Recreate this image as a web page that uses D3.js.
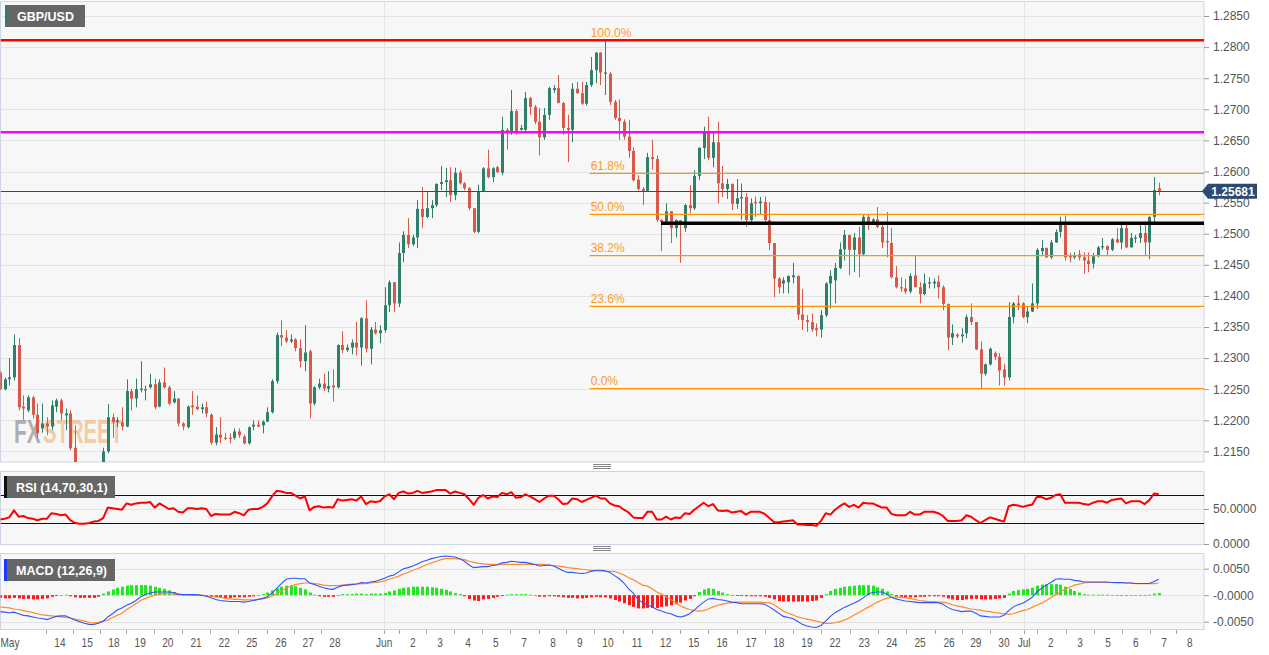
<!DOCTYPE html>
<html><head><meta charset="utf-8">
<script src="https://cdn.jsdelivr.net/npm/d3@7"></script>
<style>
html,body{margin:0;padding:0;background:#fff;}
svg{display:block;font-family:"Liberation Sans",Arial,sans-serif;}
</style></head><body>
<svg id="c" width="1269" height="655"></svg>
<script>
// ---------------- DATA (4h candles) ----------------
const open=[1.2277,1.2250,1.2266,1.2269,1.2321,1.2222,1.2216,1.2237,1.2209,1.2187,1.2195,1.2190,1.2222,1.2232,1.2208,1.2211,1.2156,1.2119,1.2106,1.2087,1.2100,1.2111,1.2126,1.2150,1.2205,1.2197,1.2197,1.2190,1.2247,1.2235,1.2250,1.2248,1.2253,1.2258,1.2222,1.2261,1.2253,1.2229,1.2235,1.2195,1.2189,1.2224,1.2222,1.2218,1.2221,1.2209,1.2164,1.2177,1.2172,1.2172,1.2172,1.2182,1.2174,1.2163,1.2190,1.2193,1.2192,1.2198,1.2213,1.2263,1.2337,1.2333,1.2327,1.2330,1.2316,1.2295,1.2311,1.2227,1.2253,1.2259,1.2251,1.2256,1.2253,1.2321,1.2313,1.2317,1.2325,1.2317,1.2364,1.2315,1.2346,1.2340,1.2345,1.2385,1.2422,1.2388,1.2469,1.2498,1.2483,1.2494,1.2540,1.2527,1.2541,1.2546,1.2580,1.2583,1.2586,1.2562,1.2598,1.2581,1.2573,1.2541,1.2503,1.2567,1.2605,1.2591,1.2607,1.2598,1.2667,1.2662,1.2697,1.2667,1.2667,1.2718,1.2704,1.2680,1.2655,1.2691,1.2731,1.2734,1.2710,1.2670,1.2667,1.2733,1.2726,1.2709,1.2739,1.2763,1.2791,1.2757,1.2757,1.2712,1.2686,1.2680,1.2656,1.2633,1.2587,1.2572,1.2569,1.2623,1.2620,1.2522,1.2519,1.2536,1.2509,1.2522,1.2509,1.2546,1.2541,1.2593,1.2638,1.2662,1.2622,1.2647,1.2581,1.2572,1.2580,1.2548,1.2557,1.2559,1.2522,1.2551,1.2549,1.2551,1.2522,1.2485,1.2428,1.2420,1.2422,1.2430,1.2432,1.2370,1.2361,1.2358,1.2348,1.2346,1.2369,1.2420,1.2425,1.2445,1.2475,1.2498,1.2474,1.2494,1.2467,1.2527,1.2519,1.2523,1.2511,1.2488,1.2485,1.2430,1.2414,1.2412,1.2407,1.2433,1.2414,1.2403,1.2420,1.2420,1.2423,1.2414,1.2387,1.2333,1.2338,1.2335,1.2340,1.2366,1.2358,1.2314,1.2275,1.2290,1.2308,1.2302,1.2282,1.2269,1.2366,1.2388,1.2388,1.2366,1.2375,1.2388,1.2472,1.2477,1.2462,1.2486,1.2503,1.2517,1.2465,1.2462,1.2467,1.2462,1.2457,1.2452,1.2464,1.2478,1.2480,1.2474,1.2491,1.2486,1.2509,1.2478,1.2493,1.2493,1.2501,1.2486,1.2527,1.2573];
const high=[1.2280,1.2269,1.2300,1.2338,1.2332,1.2240,1.2240,1.2239,1.2227,1.2227,1.2205,1.2232,1.2235,1.2235,1.2219,1.2216,1.2192,1.2127,1.2116,1.2106,1.2123,1.2131,1.2156,1.2226,1.2211,1.2205,1.2221,1.2266,1.2251,1.2267,1.2295,1.2256,1.2275,1.2267,1.2266,1.2285,1.2256,1.2247,1.2235,1.2197,1.2224,1.2247,1.2240,1.2227,1.2230,1.2211,1.2189,1.2205,1.2180,1.2179,1.2187,1.2187,1.2177,1.2190,1.2200,1.2200,1.2200,1.2221,1.2266,1.2341,1.2361,1.2345,1.2338,1.2332,1.2330,1.2353,1.2314,1.2255,1.2267,1.2275,1.2279,1.2282,1.2322,1.2343,1.2322,1.2330,1.2358,1.2366,1.2393,1.2350,1.2358,1.2353,1.2414,1.2425,1.2422,1.2486,1.2504,1.2525,1.2498,1.2554,1.2575,1.2567,1.2554,1.2581,1.2609,1.2606,1.2607,1.2606,1.2602,1.2583,1.2575,1.2541,1.2579,1.2607,1.2635,1.2607,1.2609,1.2688,1.2670,1.2731,1.2700,1.2675,1.2728,1.2720,1.2707,1.2702,1.2702,1.2736,1.2739,1.2755,1.2712,1.2691,1.2742,1.2744,1.2744,1.2744,1.2784,1.2792,1.2792,1.2811,1.2760,1.2715,1.2716,1.2684,1.2683,1.2639,1.2594,1.2575,1.2630,1.2651,1.2626,1.2523,1.2549,1.2536,1.2523,1.2522,1.2548,1.2578,1.2602,1.2639,1.2672,1.2688,1.2662,1.2680,1.2609,1.2588,1.2581,1.2588,1.2581,1.2565,1.2557,1.2560,1.2559,1.2560,1.2551,1.2485,1.2430,1.2430,1.2433,1.2453,1.2433,1.2411,1.2369,1.2372,1.2356,1.2377,1.2422,1.2441,1.2453,1.2486,1.2506,1.2498,1.2501,1.2511,1.2530,1.2530,1.2525,1.2543,1.2519,1.2535,1.2509,1.2448,1.2430,1.2427,1.2436,1.2464,1.2422,1.2436,1.2430,1.2428,1.2433,1.2417,1.2388,1.2354,1.2340,1.2348,1.2370,1.2388,1.2358,1.2327,1.2291,1.2317,1.2311,1.2308,1.2291,1.2390,1.2390,1.2401,1.2390,1.2382,1.2420,1.2477,1.2490,1.2478,1.2490,1.2507,1.2527,1.2529,1.2469,1.2470,1.2474,1.2470,1.2470,1.2469,1.2480,1.2493,1.2481,1.2493,1.2509,1.2514,1.2514,1.2501,1.2498,1.2514,1.2514,1.2528,1.2591,1.2582];
const low=[1.2248,1.2248,1.2256,1.2264,1.2216,1.2201,1.2213,1.2203,1.2172,1.2180,1.2176,1.2184,1.2213,1.2200,1.2184,1.2152,1.2103,1.2095,1.2076,1.2079,1.2090,1.2103,1.2111,1.2147,1.2172,1.2189,1.2184,1.2189,1.2216,1.2221,1.2245,1.2232,1.2251,1.2218,1.2221,1.2251,1.2224,1.2227,1.2190,1.2184,1.2187,1.2209,1.2216,1.2211,1.2205,1.2161,1.2160,1.2163,1.2168,1.2163,1.2169,1.2172,1.2161,1.2161,1.2184,1.2189,1.2179,1.2197,1.2211,1.2259,1.2319,1.2324,1.2324,1.2311,1.2285,1.2279,1.2203,1.2224,1.2250,1.2247,1.2245,1.2230,1.2251,1.2308,1.2310,1.2306,1.2304,1.2288,1.2309,1.2290,1.2338,1.2324,1.2341,1.2374,1.2374,1.2382,1.2454,1.2477,1.2480,1.2477,1.2509,1.2525,1.2525,1.2543,1.2570,1.2559,1.2551,1.2554,1.2579,1.2570,1.2538,1.2501,1.2501,1.2567,1.2589,1.2583,1.2598,1.2594,1.2635,1.2659,1.2659,1.2666,1.2664,1.2691,1.2676,1.2626,1.2651,1.2683,1.2726,1.2710,1.2659,1.2615,1.2647,1.2725,1.2707,1.2706,1.2736,1.2742,1.2739,1.2723,1.2707,1.2683,1.2651,1.2651,1.2622,1.2584,1.2569,1.2546,1.2567,1.2603,1.2519,1.2472,1.2517,1.2485,1.2494,1.2453,1.2503,1.2533,1.2538,1.2586,1.2620,1.2618,1.2607,1.2549,1.2559,1.2556,1.2538,1.2540,1.2522,1.2511,1.2519,1.2527,1.2530,1.2517,1.2474,1.2398,1.2404,1.2404,1.2404,1.2420,1.2361,1.2345,1.2342,1.2342,1.2335,1.2333,1.2366,1.2380,1.2388,1.2443,1.2457,1.2433,1.2438,1.2430,1.2465,1.2506,1.2514,1.2509,1.2477,1.2462,1.2428,1.2412,1.2406,1.2403,1.2404,1.2414,1.2388,1.2401,1.2412,1.2412,1.2396,1.2377,1.2313,1.2321,1.2332,1.2325,1.2332,1.2353,1.2313,1.2251,1.2272,1.2288,1.2297,1.2256,1.2256,1.2264,1.2356,1.2377,1.2364,1.2356,1.2374,1.2379,1.2465,1.2461,1.2459,1.2485,1.2494,1.2457,1.2454,1.2459,1.2457,1.2436,1.2438,1.2444,1.2462,1.2474,1.2464,1.2472,1.2485,1.2475,1.2477,1.2478,1.2485,1.2485,1.2465,1.2459,1.2517,1.2562];
const close=[1.2250,1.2266,1.2269,1.2321,1.2221,1.2219,1.2237,1.2209,1.2179,1.2195,1.2190,1.2224,1.2232,1.2211,1.2211,1.2155,1.2119,1.2106,1.2087,1.2100,1.2111,1.2126,1.2150,1.2205,1.2197,1.2200,1.2190,1.2247,1.2235,1.2250,1.2251,1.2250,1.2258,1.2221,1.2261,1.2253,1.2227,1.2235,1.2195,1.2190,1.2222,1.2221,1.2218,1.2221,1.2211,1.2164,1.2177,1.2172,1.2171,1.2170,1.2182,1.2176,1.2163,1.2189,1.2193,1.2190,1.2198,1.2213,1.2263,1.2337,1.2333,1.2327,1.2330,1.2316,1.2295,1.2309,1.2227,1.2253,1.2259,1.2251,1.2255,1.2253,1.2321,1.2313,1.2317,1.2325,1.2317,1.2364,1.2315,1.2346,1.2340,1.2345,1.2385,1.2422,1.2388,1.2469,1.2498,1.2483,1.2494,1.2540,1.2527,1.2541,1.2546,1.2580,1.2583,1.2586,1.2562,1.2598,1.2581,1.2573,1.2541,1.2503,1.2567,1.2605,1.2591,1.2605,1.2599,1.2667,1.2662,1.2697,1.2662,1.2670,1.2718,1.2704,1.2680,1.2655,1.2691,1.2734,1.2734,1.2710,1.2670,1.2667,1.2733,1.2726,1.2709,1.2739,1.2763,1.2791,1.2759,1.2759,1.2712,1.2686,1.2681,1.2656,1.2633,1.2586,1.2572,1.2569,1.2623,1.2620,1.2522,1.2519,1.2536,1.2509,1.2522,1.2517,1.2546,1.2541,1.2593,1.2638,1.2662,1.2622,1.2647,1.2581,1.2572,1.2580,1.2548,1.2557,1.2559,1.2522,1.2549,1.2549,1.2552,1.2522,1.2485,1.2428,1.2414,1.2425,1.2432,1.2433,1.2370,1.2361,1.2358,1.2346,1.2345,1.2369,1.2420,1.2432,1.2445,1.2475,1.2498,1.2474,1.2494,1.2467,1.2527,1.2514,1.2523,1.2511,1.2486,1.2486,1.2430,1.2414,1.2412,1.2407,1.2432,1.2414,1.2403,1.2420,1.2422,1.2423,1.2414,1.2387,1.2333,1.2340,1.2335,1.2338,1.2366,1.2358,1.2314,1.2275,1.2290,1.2315,1.2302,1.2280,1.2269,1.2366,1.2388,1.2385,1.2366,1.2375,1.2388,1.2474,1.2477,1.2462,1.2486,1.2503,1.2517,1.2462,1.2462,1.2465,1.2462,1.2457,1.2451,1.2464,1.2478,1.2480,1.2474,1.2491,1.2486,1.2509,1.2478,1.2493,1.2494,1.2501,1.2486,1.2527,1.2570,1.25681];

const rsi=[35,36,38,48,39,40,37,36,34,36,36,44,43,41,42,34,30,29,29,30,32,33,37,52,51,50,49,58,56,58,59,59,60,52,58,54,50,51,46,45,51,51,50,51,50,40,43,42,42,42,46,44,41,49,50,50,53,58,68,76,75,73,73,69,65,68,48,53,54,52,53,52,64,62,63,64,62,68,57,61,60,61,68,71,64,73,75,72,73,76,73,74,75,77,77,77,72,75,73,71,64,56,66,70,65,68,67,73,71,74,66,67,71,68,64,60,65,69,69,64,57,58,65,64,60,63,66,69,65,65,58,55,54,49,45,38,37,37,46,46,35,35,39,35,38,37,44,43,49,54,59,54,57,48,47,48,45,46,47,42,46,46,46,43,37,31,31,32,33,34,28,28,27,27,26,33,44,42,49,54,58,53,56,52,59,58,58,55,52,52,43,41,41,41,46,42,42,46,46,46,44,40,33,33,33,34,41,39,34,30,34,38,36,34,32,54,56,55,53,55,56,67,67,64,66,70,71,59,59,59,59,57,56,59,61,61,59,63,64,65,58,61,61,61,57,63,72,71];

const macd=[-0.0031,-0.0032,-0.0033,-0.0032,-0.0035,-0.0038,-0.0039,-0.0041,-0.0043,-0.0044,-0.0046,-0.0043,-0.0040,-0.0039,-0.0039,-0.0043,-0.0047,-0.0050,-0.0053,-0.0055,-0.0055,-0.0053,-0.0049,-0.0041,-0.0035,-0.0028,-0.0024,-0.0019,-0.0015,-0.0010,-0.0003,0.0001,0.0004,0.0006,0.0006,0.0006,0.0006,0.0005,0.0002,0.0001,0.0001,0.0001,0.0001,0.0000,-0.0002,-0.0005,-0.0008,-0.0010,-0.0011,-0.0012,-0.0012,-0.0012,-0.0013,-0.0012,-0.0010,-0.0008,-0.0006,-0.0003,0.0004,0.0013,0.0022,0.0030,0.0032,0.0032,0.0031,0.0031,0.0023,0.0020,0.0017,0.0014,0.0012,0.0011,0.0015,0.0018,0.0019,0.0020,0.0021,0.0024,0.0023,0.0025,0.0026,0.0029,0.0032,0.0036,0.0038,0.0044,0.0050,0.0052,0.0055,0.0059,0.0063,0.0066,0.0069,0.0071,0.0073,0.0074,0.0073,0.0072,0.0069,0.0064,0.0057,0.0052,0.0053,0.0054,0.0054,0.0056,0.0057,0.0061,0.0062,0.0064,0.0063,0.0062,0.0062,0.0060,0.0058,0.0055,0.0056,0.0057,0.0055,0.0051,0.0046,0.0043,0.0043,0.0042,0.0041,0.0042,0.0045,0.0047,0.0047,0.0046,0.0043,0.0037,0.0031,0.0023,0.0012,0.0004,-0.0008,-0.0014,-0.0018,-0.0022,-0.0027,-0.0030,-0.0033,-0.0035,-0.0039,-0.0041,-0.0039,-0.0035,-0.0028,-0.0020,-0.0013,-0.0007,-0.0006,-0.0008,-0.0009,-0.0011,-0.0013,-0.0014,-0.0016,-0.0016,-0.0016,-0.0016,-0.0016,-0.0017,-0.0022,-0.0028,-0.0034,-0.0040,-0.0042,-0.0044,-0.0049,-0.0055,-0.0058,-0.0060,-0.0061,-0.0057,-0.0049,-0.0040,-0.0033,-0.0028,-0.0023,-0.0019,-0.0015,-0.0011,-0.0005,0.0002,0.0005,0.0006,0.0006,0.0002,-0.0004,-0.0007,-0.0009,-0.0011,-0.0012,-0.0013,-0.0014,-0.0014,-0.0014,-0.0014,-0.0014,-0.0017,-0.0023,-0.0027,-0.0029,-0.0031,-0.0030,-0.0030,-0.0034,-0.0039,-0.0040,-0.0041,-0.0041,-0.0041,-0.0038,-0.0029,-0.0022,-0.0018,-0.0015,-0.0010,-0.0004,0.0006,0.0013,0.0019,0.0024,0.0030,0.0031,0.0030,0.0030,0.0028,0.0027,0.0025,0.0025,0.0025,0.0025,0.0025,0.0025,0.0024,0.0024,0.0024,0.0023,0.0023,0.0022,0.0022,0.0022,0.0022,0.0026,0.0030];

const signal=[-0.0022,-0.0023,-0.0024,-0.0026,-0.0027,-0.0029,-0.0031,-0.0033,-0.0035,-0.0037,-0.0038,-0.0039,-0.0040,-0.0041,-0.0042,-0.0043,-0.0045,-0.0047,-0.0049,-0.0051,-0.0052,-0.0051,-0.0049,-0.0047,-0.0042,-0.0038,-0.0034,-0.0027,-0.0022,-0.0016,-0.0010,-0.0006,-0.0003,0.0000,0.0002,0.0003,0.0003,0.0002,0.0001,0.0001,0.0001,0.0000,0.0000,0.0000,-0.0001,-0.0002,-0.0003,-0.0004,-0.0006,-0.0007,-0.0008,-0.0008,-0.0009,-0.0009,-0.0009,-0.0008,-0.0007,-0.0005,-0.0002,0.0003,0.0008,0.0013,0.0017,0.0020,0.0022,0.0023,0.0023,0.0022,0.0021,0.0019,0.0018,0.0018,0.0018,0.0019,0.0020,0.0021,0.0021,0.0022,0.0022,0.0023,0.0024,0.0025,0.0027,0.0030,0.0033,0.0036,0.0040,0.0043,0.0047,0.0050,0.0054,0.0058,0.0061,0.0064,0.0067,0.0069,0.0069,0.0069,0.0068,0.0067,0.0064,0.0062,0.0060,0.0059,0.0058,0.0058,0.0058,0.0058,0.0058,0.0058,0.0058,0.0058,0.0058,0.0058,0.0058,0.0058,0.0058,0.0057,0.0056,0.0055,0.0054,0.0052,0.0051,0.0050,0.0049,0.0048,0.0047,0.0046,0.0046,0.0045,0.0045,0.0045,0.0042,0.0038,0.0033,0.0029,0.0024,0.0019,0.0017,0.0012,0.0006,0.0002,-0.0003,-0.0008,-0.0014,-0.0020,-0.0024,-0.0027,-0.0029,-0.0030,-0.0029,-0.0026,-0.0022,-0.0019,-0.0017,-0.0015,-0.0014,-0.0013,-0.0013,-0.0013,-0.0013,-0.0013,-0.0013,-0.0014,-0.0014,-0.0018,-0.0024,-0.0030,-0.0034,-0.0037,-0.0041,-0.0043,-0.0045,-0.0047,-0.0049,-0.0051,-0.0053,-0.0053,-0.0052,-0.0050,-0.0047,-0.0043,-0.0038,-0.0033,-0.0028,-0.0023,-0.0018,-0.0013,-0.0009,-0.0006,-0.0004,-0.0003,-0.0004,-0.0005,-0.0006,-0.0008,-0.0010,-0.0011,-0.0012,-0.0012,-0.0013,-0.0013,-0.0015,-0.0018,-0.0020,-0.0022,-0.0024,-0.0026,-0.0027,-0.0028,-0.0030,-0.0031,-0.0033,-0.0034,-0.0035,-0.0036,-0.0035,-0.0032,-0.0029,-0.0027,-0.0023,-0.0019,-0.0015,-0.0010,-0.0005,0.0001,0.0006,0.0011,0.0015,0.0019,0.0021,0.0023,0.0024,0.0024,0.0024,0.0024,0.0024,0.0024,0.0023,0.0023,0.0023,0.0023,0.0022,0.0022,0.0022,0.0022,0.0022,0.0023,0.0024];

const hist=[-0.0005,-0.0006,-0.0006,-0.0005,-0.0006,-0.0007,-0.0007,-0.0008,-0.0008,-0.0007,-0.0006,-0.0003,-0.0001,0.0000,0.0001,-0.0002,-0.0004,-0.0005,-0.0005,-0.0005,-0.0005,-0.0003,0.0003,0.0007,0.0011,0.0014,0.0016,0.0018,0.0019,0.0019,0.0019,0.0019,0.0018,0.0016,0.0014,0.0012,0.0009,0.0006,0.0003,0.0001,0.0001,0.0001,0.0000,0.0000,-0.0001,-0.0003,-0.0004,-0.0005,-0.0005,-0.0005,-0.0004,-0.0004,-0.0004,-0.0003,-0.0002,0.0000,0.0002,0.0005,0.0009,0.0013,0.0016,0.0018,0.0019,0.0017,0.0014,0.0011,0.0005,0.0001,-0.0002,-0.0003,-0.0003,-0.0003,0.0000,0.0002,0.0002,0.0002,0.0003,0.0003,0.0002,0.0003,0.0003,0.0003,0.0004,0.0007,0.0009,0.0012,0.0014,0.0015,0.0016,0.0016,0.0016,0.0016,0.0015,0.0014,0.0012,0.0010,0.0007,0.0004,0.0002,-0.0002,-0.0007,-0.0010,-0.0011,-0.0008,-0.0007,-0.0005,-0.0003,-0.0001,0.0001,0.0002,0.0002,0.0002,0.0002,0.0001,0.0000,-0.0003,-0.0003,-0.0002,-0.0002,-0.0003,-0.0004,-0.0005,-0.0005,-0.0006,-0.0006,-0.0005,-0.0004,-0.0003,-0.0004,-0.0004,-0.0006,-0.0009,-0.0012,-0.0015,-0.0019,-0.0022,-0.0025,-0.0025,-0.0024,-0.0024,-0.0024,-0.0022,-0.0021,-0.0019,-0.0017,-0.0014,-0.0010,-0.0007,-0.0002,0.0006,0.0011,0.0013,0.0012,0.0008,0.0005,0.0002,0.0000,-0.0001,-0.0001,-0.0002,-0.0002,-0.0002,-0.0002,-0.0003,-0.0005,-0.0008,-0.0011,-0.0012,-0.0012,-0.0012,-0.0012,-0.0012,-0.0012,-0.0011,-0.0010,-0.0005,0.0002,0.0008,0.0012,0.0014,0.0016,0.0017,0.0018,0.0019,0.0019,0.0019,0.0018,0.0015,0.0012,0.0007,0.0002,-0.0002,-0.0003,-0.0004,-0.0004,-0.0004,-0.0003,-0.0003,-0.0002,-0.0002,-0.0002,-0.0003,-0.0006,-0.0008,-0.0009,-0.0009,-0.0008,-0.0007,-0.0007,-0.0008,-0.0008,-0.0008,-0.0007,-0.0006,-0.0005,0.0003,0.0008,0.0010,0.0011,0.0012,0.0014,0.0018,0.0020,0.0021,0.0021,0.0021,0.0020,0.0016,0.0012,0.0008,0.0005,0.0002,0.0001,0.0001,0.0001,0.0001,0.0001,0.0000,0.0000,0.0000,0.0000,0.0000,0.0000,0.0000,0.0000,0.0001,0.0003,0.0004];

const xTickLabels=["May","14","15","18","19","20","21","22","25","26","27","28","Jun","2","3","4","5","7","8","9","10","11","12","15","16","17","18","19","22","23","24","25","26","29","30","Jul","2","3","5","6","7","8"];
const xTickIndex=[2.1,12.8,18.6,24.3,29.9,35.8,41.8,47.8,53.7,59.9,65.7,71.4,81.9,88,93.8,99.8,105.7,111.7,117.9,123.6,129.6,135.8,141.9,147.9,153.9,160.1,166,172,178,184.2,190.1,196.1,202.3,208,214,218.3,224,230.2,236.2,242.1,248.1,253.6];
const monthLabels=["Jun","Jul"];

const priceTicks=[1.2150,1.2200,1.2250,1.2300,1.2350,1.2400,1.2450,1.2500,1.2550,1.2600,1.2650,1.2700,1.2750,1.2800,1.2850];
const rsiTicks=[0,50];
const rsiTickLabels=["0.0000","50.0000"];
const rsiLevels=[30,70];
const macdTicks=[-0.005,0,0.005];
const macdTickLabels=["-0.0050","-0.0000","0.0050"];

const fibHigh=1.2811, fibLow=1.2251;
const fibLevels=[0,0.236,0.382,0.5,0.618,1];
const fibLabels=["0.0%","23.6%","38.2%","50.0%","61.8%","100.0%"];
const fibStartIndex=125.7;
const redLevel=1.2811, magentaLevel=1.2663;
const blackLevel=1.2517, blackStartIndex=140.9;
const lastPrice=1.25681;
const title="GBP/USD", rsiTitle="RSI (14,70,30,1)", macdTitle="MACD (12,26,9)";
const watermark=["FX","STREET"];

// ---------------- LAYOUT ----------------
const svg=d3.select("#c");
const L=0.5, R=1204;
const main={top:1.5,bottom:462}, rp={top:471.5,bottom:544.5}, mp={top:553.5,bottom:629.5};
const n=close.length;
const x=d3.scaleLinear().domain([0,247]).range([-0.1,1158.8]);
const y=d3.scaleLinear().domain([1.2133,1.28725]).range([462,2]);
const yr=d3.scaleLinear().domain([0,100]).range([544,474]);
const ym=d3.scaleLinear().domain([-0.005,0.005]).range([621.7,568.7]);

const GRID="#e4e4e4", FRAME="#cdd4e6";
const defs=svg.append("defs");
[["cm",main],["cr",rp],["cmacd",mp]].forEach(([id,p])=>{
  defs.append("clipPath").attr("id",id).append("rect")
   .attr("x",L).attr("y",p.top).attr("width",R-L).attr("height",p.bottom-p.top);
});

function panel(p){
  svg.append("rect").attr("x",L).attr("y",p.top).attr("width",R-L).attr("height",p.bottom-p.top)
    .attr("fill","#f7f7f7").attr("stroke",FRAME).attr("stroke-width",1);
}
panel(main);panel(rp);panel(mp);

// month separators
const monthIdx=xTickLabels.map((t,k)=>monthLabels.includes(t)?xTickIndex[k]:null).filter(v=>v!==null);
[main,rp,mp].forEach(p=>{
  svg.append("g").selectAll("line").data(monthIdx).join("line")
   .attr("x1",d=>Math.round(x(d))+0.5).attr("x2",d=>Math.round(x(d))+0.5)
   .attr("y1",p.top).attr("y2",p.bottom).attr("stroke",GRID);
});

// horizontal grids
svg.append("g").selectAll("line").data(priceTicks).join("line")
 .attr("x1",L).attr("x2",R).attr("y1",d=>Math.round(y(d))+0.5).attr("y2",d=>Math.round(y(d))+0.5)
 .attr("stroke",GRID);
svg.append("line").attr("x1",L).attr("x2",R).attr("y1",Math.round(yr(50))+0.5).attr("y2",Math.round(yr(50))+0.5).attr("stroke",GRID);
svg.append("g").selectAll("line").data(macdTicks).join("line")
 .attr("x1",L).attr("x2",R).attr("y1",d=>Math.round(ym(d))+0.5).attr("y2",d=>Math.round(ym(d))+0.5)
 .attr("stroke",GRID);

// right axes
function rightAxis(scale,vals,fmt){
  const g=svg.append("g").attr("transform",`translate(${R},0)`)
   .call(d3.axisRight(scale).tickValues(vals).tickSize(5).tickFormat(fmt));
  g.select(".domain").remove();
  g.selectAll("line").attr("stroke","#999");
  g.selectAll("text").attr("fill","#555").attr("font-size",12).attr("x",9)
   .attr("font-family","'Liberation Sans',Arial,sans-serif");
  return g;
}
rightAxis(y,priceTicks,d3.format(".4f"));
rightAxis(yr,rsiTicks,(d,i)=>rsiTickLabels[i]);
rightAxis(ym,macdTicks,(d,i)=>macdTickLabels[i]);

// watermark (behind the candles), two words side by side, condensed
svg.append("text").attr("transform","translate(14,443) scale(0.8,1.3)")
 .attr("font-size",26).attr("font-weight","bold")
 .attr("fill","#7d8088").attr("opacity",0.6).text(watermark[0]);
svg.append("text").attr("transform","translate(43,443) scale(0.78,1.3)")
 .attr("font-size",26).attr("font-weight","bold")
 .attr("fill","#f0b070").attr("opacity",0.6).text(watermark[1]);

// ---------------- MAIN CANDLES ----------------
const GREEN="#2f806b", RED="#d8584a";
const cg=svg.append("g").attr("clip-path","url(#cm)");
const idx=d3.range(n);
cg.selectAll("line.w").data(idx).join("line").attr("class","w")
 .attr("x1",i=>Math.round(x(i))+0.5).attr("x2",i=>Math.round(x(i))+0.5)
 .attr("y1",i=>y(high[i])).attr("y2",i=>y(low[i]))
 .attr("stroke",i=>close[i]>=open[i]?GREEN:RED).attr("stroke-width",1);
cg.selectAll("rect.b").data(idx).join("rect").attr("class","b")
 .attr("x",i=>Math.round(x(i))-1).attr("width",3)
 .attr("y",i=>y(Math.max(open[i],close[i])))
 .attr("height",i=>Math.max(1.2,Math.abs(y(open[i])-y(close[i]))))
 .attr("fill",i=>close[i]>=open[i]?GREEN:RED);

// horizontal levels
const lv=svg.append("g").attr("clip-path","url(#cm)");
const fibPrice=f=>fibLow+(fibHigh-fibLow)*f;
lv.selectAll("line.f").data(fibLevels).join("line").attr("class","f")
 .attr("x1",x(fibStartIndex)).attr("x2",R).attr("y1",d=>y(fibPrice(d))).attr("y2",d=>y(fibPrice(d)))
 .attr("stroke","#ff9800").attr("stroke-width",1.3);
lv.selectAll("text.f").data(fibLevels).join("text").attr("class","f")
 .attr("x",x(fibStartIndex)+1).attr("y",d=>y(fibPrice(d))-3.5)
 .attr("fill","#ff9a1f").attr("font-size",12).text((d,i)=>fibLabels[i]);
lv.append("line").attr("x1",L).attr("x2",R).attr("y1",y(redLevel)).attr("y2",y(redLevel))
 .attr("stroke","#ff0000").attr("stroke-width",2.5);
lv.append("line").attr("x1",L).attr("x2",R).attr("y1",y(magentaLevel)).attr("y2",y(magentaLevel))
 .attr("stroke","#ff00ff").attr("stroke-width",2.5);
lv.append("line").attr("x1",x(blackStartIndex)).attr("x2",R).attr("y1",y(blackLevel)).attr("y2",y(blackLevel))
 .attr("stroke","#000").attr("stroke-width",3.5);
lv.append("line").attr("x1",L).attr("x2",R).attr("y1",Math.round(y(lastPrice))+0.5).attr("y2",Math.round(y(lastPrice))+0.5)
 .attr("stroke","#2c4a72").attr("stroke-width",1.2);

// last price tag (drawn over the axis, as in the reference)
const ly=y(lastPrice);
svg.append("path").attr("d",`M${R-2},${ly} L${R+4},${ly-7.5} L${R+53},${ly-7.5} L${R+53},${ly+7.5} L${R+4},${ly+7.5} Z`)
 .attr("fill","#2c4a72");
svg.append("text").attr("x",R+29).attr("y",ly+4.5).attr("text-anchor","middle").attr("fill","#fff")
 .attr("font-size",12).attr("font-weight","bold").text(lastPrice.toFixed(5));

// ---------------- RSI ----------------
const rg=svg.append("g").attr("clip-path","url(#cr)");
rg.selectAll("line.l").data(rsiLevels).join("line").attr("class","l")
 .attr("x1",L).attr("x2",R).attr("y1",d=>Math.round(yr(d))+0.5).attr("y2",d=>Math.round(yr(d))+0.5)
 .attr("stroke","#111").attr("stroke-width",1);
rg.append("path").datum(idx).attr("fill","none").attr("stroke","#ff0000").attr("stroke-width",2)
 .attr("stroke-linejoin","round")
 .attr("d",d3.line().x(i=>x(i)).y(i=>yr(rsi[i])));

// ---------------- MACD ----------------
const mg=svg.append("g").attr("clip-path","url(#cmacd)");
mg.selectAll("rect.h").data(idx).join("rect").attr("class","h")
 .attr("x",i=>Math.round(x(i))-1).attr("width",3)
 .attr("y",i=>Math.min(ym(0),ym(hist[i])))
 .attr("height",i=>Math.max(0.8,Math.abs(ym(hist[i])-ym(0))))
 .attr("fill",i=>hist[i]>=0?"#22e622":"#ff1a1a");
mg.append("path").datum(idx).attr("fill","none").attr("stroke","#ff8a2a").attr("stroke-width",1.2)
 .attr("d",d3.line().x(i=>x(i)).y(i=>ym(signal[i])));
mg.append("path").datum(idx).attr("fill","none").attr("stroke","#2f55ff").attr("stroke-width",1.1)
 .attr("d",d3.line().x(i=>x(i)).y(i=>ym(macd[i])));

// ---------------- X AXIS ----------------
const xa=svg.append("g");
xa.selectAll("line").data(xTickIndex).join("line")
 .attr("x1",(d,k)=>Math.round(x(d)-(monthLabels.includes(xTickLabels[k])?0:14))+0.5)
 .attr("x2",(d,k)=>Math.round(x(d)-(monthLabels.includes(xTickLabels[k])?0:14))+0.5)
 .attr("y1",630).attr("y2",634).attr("stroke","#aaa");
xa.selectAll("text").data(xTickIndex).join("text")
 .attr("transform",d=>`translate(${Math.max(10,x(d))},647) scale(0.84,1)`)
 .attr("text-anchor","middle")
 .attr("font-size",12).attr("fill","#555")
 .text((d,k)=>xTickLabels[k]);

// ---------------- LABEL BOXES ----------------
function tag(x0,y0,w,h,accent,txt){
  svg.append("rect").attr("x",x0).attr("y",y0).attr("width",w).attr("height",h).attr("fill","#666");
  svg.append("rect").attr("x",x0).attr("y",y0).attr("width",3).attr("height",h).attr("fill",accent);
  svg.append("text").attr("x",x0+12).attr("y",y0+h/2+4.5).attr("fill","#fff").attr("font-size",12.5)
   .attr("font-weight","bold").text(txt);
}
tag(5,5,80,22,"#2f806b",title);
tag(4,476,111,22,"#111",rsiTitle);
tag(4,559,111,22,"#1a3cff",macdTitle);

// grippers
[464.5,546.5].forEach(g0=>{
  svg.append("g").selectAll("line").data([0,2,4]).join("line")
   .attr("x1",593).attr("x2",611).attr("y1",d=>g0+d).attr("y2",d=>g0+d).attr("stroke","#888");
});
</script>
</body></html>
